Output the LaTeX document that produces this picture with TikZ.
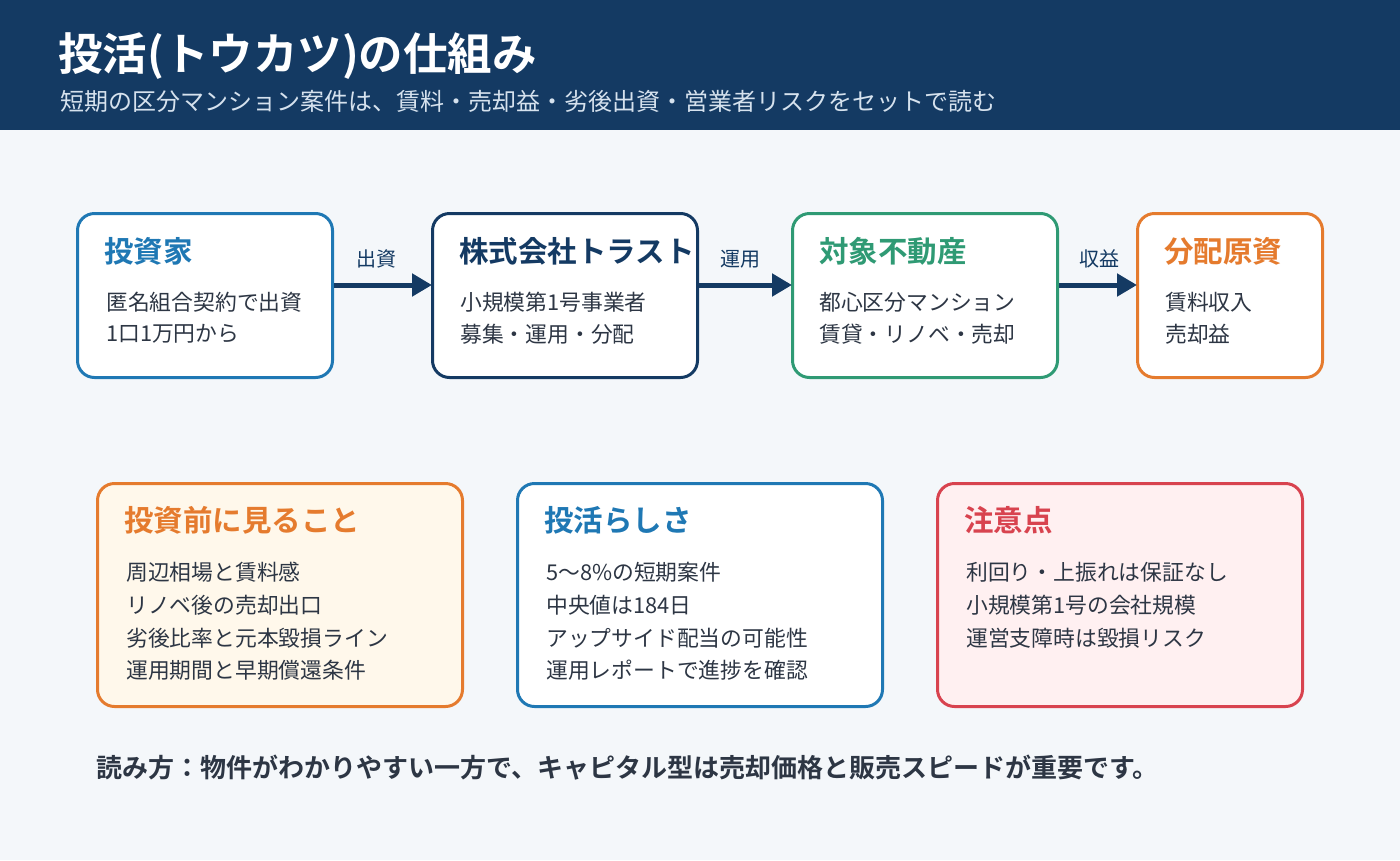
\documentclass[tikz,border=0pt]{standalone}
\usepackage{fontspec}
\setmainfont{Noto Sans CJK JP}[BoldFont={Noto Sans CJK JP Bold}]
\usetikzlibrary{arrows.meta}
\definecolor{navy}{HTML}{143A63}
\definecolor{bg}{HTML}{F4F7FA}
\definecolor{cblue}{HTML}{1F78B4}
\definecolor{cgreen}{HTML}{2F9A74}
\definecolor{corange}{HTML}{E57B2E}
\definecolor{cred}{HTML}{D8434F}
\definecolor{body}{HTML}{2D3644}
\definecolor{sub}{HTML}{D6E2EE}
\definecolor{lorange}{HTML}{FFF8EB}
\definecolor{lred}{HTML}{FFF0F1}
\tikzset{
  box/.style={draw, line width=3pt, rounded corners=17pt, fill=white, inner sep=0pt},
  ttl/.style={anchor=west, font=\bfseries\fontsize{29.5}{31}\selectfont, inner sep=0pt},
  txt/.style={anchor=west, font=\fontsize{21.8}{25}\selectfont, text=body, inner sep=0pt},
  lbl/.style={font=\fontsize{20}{22}\selectfont, text=navy, inner sep=0pt},
  flow/.style={draw=navy, line width=5pt, -{Triangle[length=20pt,width=22pt]}, shorten >=-1pt}
}
\begin{document}
\begin{tikzpicture}[x=1pt,y=-1pt]
\fill[bg] (0,0) rectangle (1400,860);
\useasboundingbox (0,0) rectangle (1400,860);
\fill[navy] (0,0) rectangle (1400,130);
\node[anchor=west, inner sep=0pt, text=white, font=\bfseries\fontsize{44.5}{46}\selectfont] (title) at (58,56) {投活(トウカツ)の仕組み};
\node[anchor=west, inner sep=0pt, text=sub, font=\fontsize{24}{27}\selectfont] (subtitle) at (60,101) {短期の区分マンション案件は、賃料・売却益・劣後出資・営業者リスクをセットで読む};

% top row
\node[box, draw=cblue, minimum width=255pt, minimum height=164pt] (inv) at (205,295.5) {};
\node[box, draw=navy, minimum width=265pt, minimum height=164pt] (trust) at (565,295.5) {};
\node[box, draw=cgreen, minimum width=265pt, minimum height=164pt] (prop) at (925,295.5) {};
\node[box, draw=corange, minimum width=185pt, minimum height=164pt] (dist) at (1230,295.5) {};

\node[ttl, text=cblue] (invT) at (104,251) {投資家};
\node[txt] (inv1) at (106,302) {匿名組合契約で出資};
\node[txt] (inv2) at (106,334) {1口1万円から};

\node[ttl, text=navy] (trustT) at (459,251) {株式会社トラスト};
\node[txt] (trust1) at (460,302) {小規模第1号事業者};
\node[txt] (trust2) at (460,334) {募集・運用・分配};

\node[ttl, text=cgreen] (propT) at (819,251) {対象不動産};
\node[txt] (prop1) at (819,302) {都心区分マンション};
\node[txt] (prop2) at (819,334) {賃貸・リノベ・売却};

\node[ttl, text=corange] (distT) at (1164,251) {分配原資};
\node[txt] (dist1) at (1165,302) {賃料収入};
\node[txt] (dist2) at (1165,334) {売却益};

\path[flow] (inv.east |- 0,285) -- (trust.west |- 0,285);
\path[flow] (trust.east |- 0,285) -- (prop.west |- 0,285);
\path[flow] (prop.east |- 0,285) -- (dist.west |- 0,285);
\node[lbl] (l1) at (376,259) {出資};
\node[lbl] (l2) at (740,259) {運用};
\node[lbl] (l3) at (1099,259) {収益};

% bottom row
\node[box, draw=corange, fill=lorange, minimum width=365pt, minimum height=223pt] (check) at (280,595) {};
\node[box, draw=cblue, fill=white, minimum width=365pt, minimum height=223pt] (feat) at (700,595) {};
\node[box, draw=cred, fill=lred, minimum width=365pt, minimum height=223pt] (warn) at (1120,595) {};

\node[ttl, text=corange] (checkT) at (124,520) {投資前に見ること};
\node[txt] (c1) at (126,572) {周辺相場と賃料感};
\node[txt] (c2) at (126,605) {リノベ後の売却出口};
\node[txt] (c3) at (126,638) {劣後比率と元本毀損ライン};
\node[txt] (c4) at (126,670) {運用期間と早期償還条件};

\node[ttl, text=cblue] (featT) at (544,520) {投活らしさ};
\node[txt] (f1) at (546,572) {5〜8\%の短期案件};
\node[txt] (f2) at (546,605) {中央値は184日};
\node[txt] (f3) at (546,638) {アップサイド配当の可能性};
\node[txt] (f4) at (546,670) {運用レポートで進捗を確認};

\node[ttl, text=cred] (warnT) at (964,520) {注意点};
\node[txt] (w1) at (966,572) {利回り・上振れは保証なし};
\node[txt] (w2) at (966,605) {小規模第1号の会社規模};
\node[txt] (w3) at (966,638) {運営支障時は毀損リスク};

\node[anchor=west, inner sep=0pt, text=body, font=\bfseries\fontsize{26}{29}\selectfont] (foot) at (96,768) {読み方：物件がわかりやすい一方で、キャピタル型は売却価格と販売スピードが重要です。};
\end{tikzpicture}
\end{document}
